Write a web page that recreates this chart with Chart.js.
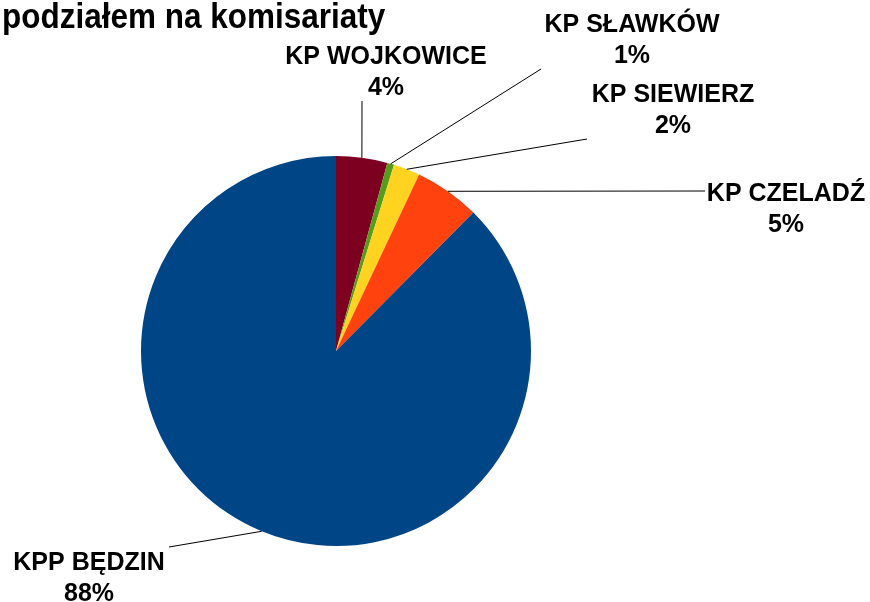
<!DOCTYPE html>
<html>
<head>
<meta charset="utf-8">
<script src="https://cdn.jsdelivr.net/npm/chart.js@4.4.1/dist/chart.umd.min.js"></script>
<style>
  html, body { margin: 0; padding: 0; background: #fff; }
  #wrap { width: 870px; height: 602px; }
</style>
</head>
<body>
<div id="wrap"><canvas id="pieChart" width="870" height="602"></canvas></div>
<script>
const titleText = 'podziałem na komisariaty';
const categories = ['KP WOJKOWICE', 'KP SŁAWKÓW', 'KP SIEWIERZ', 'KP CZELADŹ', 'KPP BĘDZIN'];
const shares = [4.24, 0.57, 2.2, 5.43, 87.56];
const sliceColors = ['#7e0021', '#579d1c', '#ffd320', '#ff420e', '#004586'];

// where each label sits and where its leader line ends (layout only)
const labelLayout = [
    { tx: 386, ty: 57, lx: 362, ly: 101 },
    { tx: 632, ty: 25, lx: 541, ly: 69 },
    { tx: 673, ty: 95, lx: 587, ly: 139 },
    { tx: 786, ty: 194, lx: 705, ly: 191 },
    { tx: 89, ty: 563, lx: 169, ly: 547 }
];

const total = shares.reduce((a, b) => a + b, 0);

// text drawn a little taller than wide, like the original export
function tallText(ctx, text, x, y, sy) {
    ctx.save();
    ctx.translate(x, y);
    ctx.scale(1, sy);
    ctx.fillText(text, 0, 0);
    ctx.restore();
}

const calloutPlugin = {
    id: 'callouts',
    afterDatasetsDraw(chart) {
        const ctx = chart.ctx;
        const arcs = chart.getDatasetMeta(0).data;
        ctx.save();
        ctx.strokeStyle = '#000';
        ctx.lineWidth = 1;
        arcs.forEach((arc, i) => {
            const p = arc.getProps(['x', 'y', 'startAngle', 'endAngle', 'outerRadius'], true);
            const mid = (p.startAngle + p.endAngle) / 2;
            const sx = p.x + Math.cos(mid) * p.outerRadius;
            const sy = p.y + Math.sin(mid) * p.outerRadius;
            const l = labelLayout[i];
            ctx.beginPath();
            ctx.moveTo(sx, sy);
            ctx.lineTo(l.lx, l.ly);
            ctx.stroke();
        });
        ctx.fillStyle = '#000';
        ctx.textAlign = 'center';
        ctx.textBaseline = 'middle';
        ctx.font = 'bold 25px "Liberation Sans", Arial, sans-serif';
        arcs.forEach((arc, i) => {
            const l = labelLayout[i];
            const pct = Math.round(shares[i] / total * 100) + '%';
            tallText(ctx, categories[i], l.tx, l.ty, 1.05);
            tallText(ctx, pct, l.tx, l.ty + 31, 1.05);
        });
        // title (second line only, first one is outside the picture)
        ctx.textAlign = 'left';
        ctx.textBaseline = 'alphabetic';
        ctx.font = 'bold 31.5px "Liberation Sans", Arial, sans-serif';
        tallText(ctx, titleText, 2, 27.5, 1.1);
        ctx.restore();
    }
};

const ctx = document.getElementById('pieChart').getContext('2d');
const pieChart = new Chart(ctx, {
    type: 'pie',
    data: {
        labels: categories,
        datasets: [{
            data: shares,
            backgroundColor: sliceColors,
            borderWidth: 0
        }]
    },
    options: {
        responsive: false,
        animation: false,
        devicePixelRatio: 1,
        layout: {
            padding: { left: 141, right: 339, top: 156, bottom: 56 }
        },
        plugins: {
            legend: { display: false },
            title: { display: false },
            tooltip: { enabled: false }
        }
    },
    plugins: [calloutPlugin]
});
</script>
</body>
</html>
